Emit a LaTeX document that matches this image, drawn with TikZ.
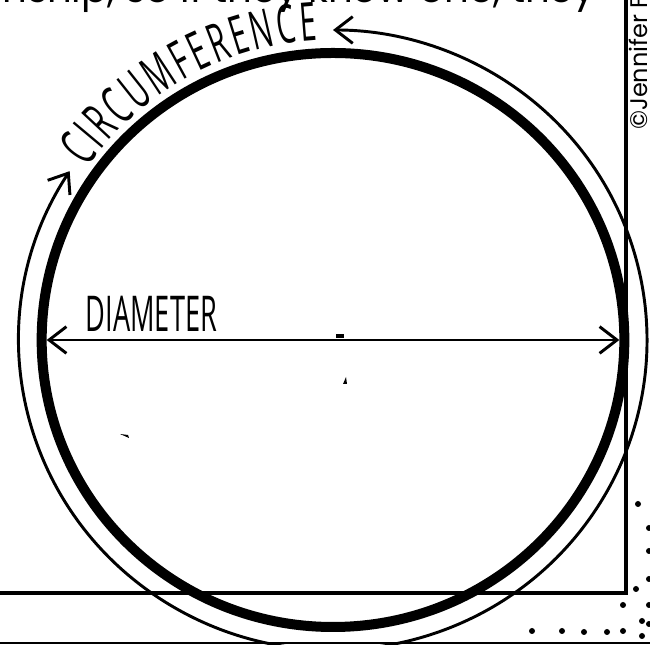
\documentclass[tikz,border=0pt]{standalone}
\usepackage{fontspec}
\usetikzlibrary{positioning,shapes.geometric,arrows.meta,decorations.text}
\newfontfamily\handfont[FakeStretch=0.55]{Open Sans}
\newfontfamily\gothfont{Poppins}

\begin{document}
\begin{tikzpicture}[
  x=0.75pt, y=0.75pt,
  >={Straight Barb[length=13pt,width=20pt]},
  rim/.style={
    draw, ellipse, line width=7.5pt,
    inner sep=0pt, outer sep=0pt,
    minimum width=437pt, % 583px
    minimum height=430.5pt % 574px
  },
  halo/.style={line width=2.2pt},
  dline/.style={line width=2.2pt},
  frame/.style={line width=3pt},
  hand/.style={font=\handfont\fontsize{37}{37}\selectfont, inner sep=0pt},
  goth/.style={font=\gothfont\fontsize{29}{32}\selectfont, inner sep=0pt}
]
\useasboundingbox (0,0) rectangle (650,645);
\clip (0,0) rectangle (650,645);

% --- Page frame ---
\coordinate (ftop) at (626,645);
\coordinate (fcorner) at (626,52);
\coordinate (fleft) at (0,52);
\draw[frame] (ftop) -- (fcorner) -- (fleft);
\coordinate (bl) at (0,2);
\coordinate (br) at (650,2);
\draw[line width=2pt] (bl) -- (br);

\foreach \x/\y in {638/504, 649/528, 649/551, 649/579, 636/589, 623/605,
                   649/605, 642/621, 649/624, 642/636, 532/631, 562/631,
                   584/632, 607/632, 623/631}
  \fill (\x,645-\y) circle[radius=3];

% --- Text cut by the top edge ---
\node[goth, anchor=base east] (topline) at (596,642)
  {relationship, so if they know one, they};
\node[goth, font=\gothfont\fontsize{18}{20}\selectfont, rotate=90,
      anchor=base west] (credit) at (647,515) {©Jennifer Findley};

% --- Circle ---
\coordinate (ctr) at (333,305);
\node[rim] (circ) at (ctr) {};

% circumference arrow round the outside
\draw[halo, <->] ([shift={(147:314 and 310)}]ctr)
  arc[start angle=147, end angle=450, x radius=314, y radius=310];
\path[decorate, decoration={text along path,
      text={|\handfont\fontsize{40}{40}\selectfont|CIRCUMFERENCE},
      text align={fit to path}}]
  ([shift={(145:300)}]ctr) arc[start angle=145, end angle=93, radius=300];

% diameter
\draw[dline, <->, shorten <=3.75pt, shorten >=3.75pt] (circ.west) -- (circ.east);
\node[hand, above right=6pt and 33pt of circ.west] (dlabel) {DIAMETER};

% --- Stray pen marks ---
\fill (336,307) rectangle (344,311);
\fill (343,261) -- (347,261) -- (346,268) -- cycle;
\fill (120,211) -- (129,207) -- (128,210) -- cycle;
\fill (530,512) -- (535,508) -- (535,513) -- cycle;
\end{tikzpicture}
\end{document}
